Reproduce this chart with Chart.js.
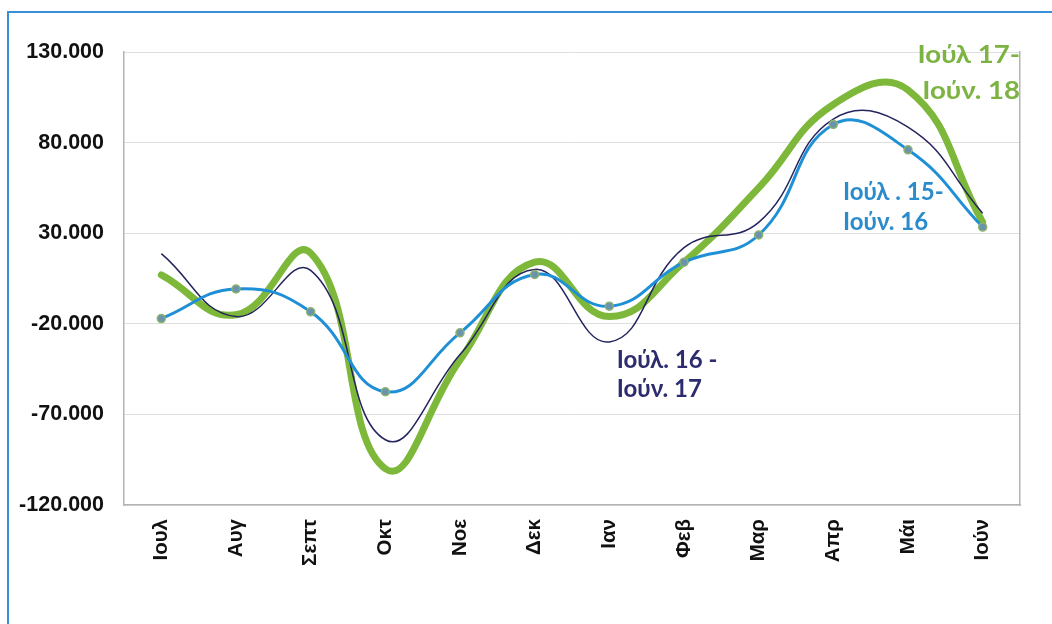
<!DOCTYPE html>
<html><head><meta charset="utf-8">
<script src="https://cdn.jsdelivr.net/npm/chart.js@4.4.1/dist/chart.umd.min.js"></script>
<style>
html,body{margin:0;padding:0;background:#fff;}
#wrap{position:relative;width:1052px;height:624px;overflow:hidden;background:#fff;}
#frame{position:absolute;left:7px;top:11px;width:1100px;height:700px;border-left:2px solid #3a8fd9;border-top:2px solid #3a8fd9;}
#wrap canvas{position:absolute;left:0;top:0;}
</style></head>
<body>
<div id="wrap"><div id="frame"></div><canvas id="c" width="1052" height="624"></canvas></div>
<script>
const months = ['Ιουλ','Αυγ','Σεπτ','Οκτ','Νοε','Δεκ','Ιαν','Φεβ','Μαρ','Απρ','Μάι','Ιούν'];
const series1516 = [-17100, -800, -13400, -57500, -25000, 7200, -10300, 14000, 29000, 90000, 76000, 33400];
const series1617 = [18700, -16000, 9500, -84000, -37000, 10000, -30000, 22000, 36000, 93000, 88500, 41000];
const series1718 = [7000, -15000, 19000, -100000, -40000, 14000, -16000, 14000, 55000, 101000, 109000, 36000];
const labels1516 = ['Ιούλ . 15-', 'Ιούν. 16'];
const labels1617 = ['Ιούλ. 16 -', 'Ιούν. 17'];
const labels1718 = ['Ιούλ 17-', 'Ιούν. 18'];
const yMin = -120000, yMax = 130000, yStep = 50000;

function fmt(v){
  const s = Math.abs(v).toString().replace(/\B(?=(\d{3})+(?!\d))/g, '.');
  return (v < 0 ? '-' : '') + s;
}

const notes = {
  id: 'notes',
  afterDatasetsDraw(chart){
    const ctx = chart.ctx, xs = chart.scales.x, ys = chart.scales.y;
    const items = [
      {lines: labels1718, color: '#7cb342', x: chart.chartArea.right, align: 'right', sx: 1.15, ys: [128000, 108500]},
      {lines: labels1516, color: '#2b8ccc', x: xs.getPixelForValue(9.13), align: 'left', sx: 1, ys: [52700, 36300]},
      {lines: labels1617, color: '#2c2c6e', x: xs.getPixelForValue(6.1), align: 'left', sx: 1, ys: [-40000, -56300]}
    ];
    ctx.save();
    ctx.font = 'bold 24px Lato';
    ctx.textBaseline = 'middle';
    items.forEach(it => {
      ctx.fillStyle = it.color;
      ctx.textAlign = it.align;
      it.lines.forEach((t, i) => {
        ctx.save();
        ctx.translate(it.x, ys.getPixelForValue(it.ys[i]));
        ctx.scale(it.sx, 1);
        ctx.fillText(t, 0, 0);
        ctx.restore();
      });
    });
    ctx.restore();
  }
};

new Chart(document.getElementById('c'), {
  type: 'line',
  data: {
    labels: months,
    datasets: [
      {label: 'Ιούλ . 15- Ιούν. 16', data: series1516, borderColor: '#1f8fd6', borderWidth: 3,
       pointRadius: 4, pointBackgroundColor: '#6a93ac', pointBorderColor: '#8db36e', pointBorderWidth: 1.5,
       tension: 0.45, order: 1},
      {label: 'Ιούλ. 16 - Ιούν. 17', data: series1617, borderColor: '#24245e', borderWidth: 1.5,
       pointRadius: 0, tension: 0.45, order: 2},
      {label: 'Ιούλ 17- Ιούν. 18', data: series1718, borderColor: '#7db83a', borderWidth: 7,
       pointRadius: 0, tension: 0.45, order: 3, borderCapStyle: 'round'}
    ]
  },
  options: {
    responsive: false,
    animation: false,
    layout: {padding: {top: 52, right: 32, left: 0, bottom: 0}},
    plugins: {legend: {display: false}, tooltip: {enabled: false}},
    scales: {
      x: {
        offset: true,
        grid: {display: false, drawTicks: false},
        border: {display: true, color: '#b4b4b4', width: 1.5},
        ticks: {maxRotation: 90, minRotation: 90, padding: 14, color: '#111',
                font: {family: 'Liberation Sans', weight: 'bold', size: 20.5}},
        afterFit(s){ s.height = 119; }
      },
      y: {
        min: yMin, max: yMax,
        grid: {color: ctx => ctx.tick && ctx.tick.value === 0 ? '#a9a9a9' : '#dedede',
               lineWidth: ctx => ctx.tick && ctx.tick.value === 0 ? 1.8 : 1, drawTicks: false},
        border: {display: true, color: '#b4b4b4', width: 1.5},
        ticks: {stepSize: yStep, padding: 20, color: '#111', callback: v => fmt(v),
                font: {family: 'Liberation Sans', weight: 'bold', size: 21.5}},
        afterFit(s){ s.width = 124; }
      },
      y2: {
        position: 'right', min: yMin, max: yMax, display: true,
        grid: {display: false, drawTicks: false},
        border: {display: true, color: '#b4b4b4', width: 1.5},
        ticks: {display: false},
        afterFit(s){ s.width = 0; }
      }
    }
  },
  plugins: [notes]
});
</script>
</body></html>
